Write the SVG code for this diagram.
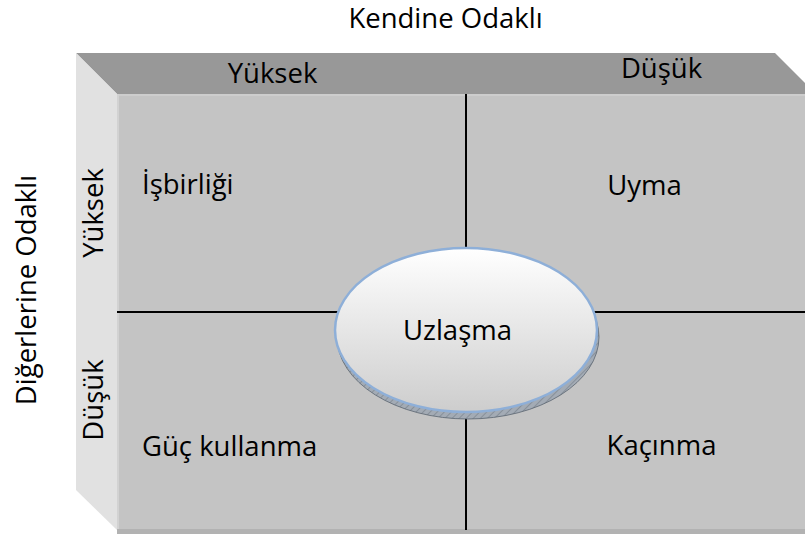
<svg xmlns="http://www.w3.org/2000/svg" width="805" height="534" viewBox="0 0 805 534">
  <style>
    text { font-family: "Open Sans", "Liberation Sans", sans-serif; fill: #000; font-size: 27.5px; }
    .divider { stroke: #000; stroke-width: 2; fill: none; }
  </style>
  <defs>
    <linearGradient id="discFill" x1="0" y1="0" x2="0" y2="1">
      <stop offset="0" stop-color="#ffffff"/>
      <stop offset="1" stop-color="#cdcdcd"/>
    </linearGradient>
    <pattern id="hatch" width="5" height="5" patternUnits="userSpaceOnUse" patternTransform="rotate(45)">
      <rect width="5" height="5" fill="#a3abb5"/>
      <line x1="0" y1="0" x2="0" y2="5" stroke="#6c7580" stroke-width="1"/>
    </pattern>
  </defs>

  <rect width="805" height="534" fill="#ffffff"/>

  <!-- box: top face, side face, front face -->
  <g id="box">
    <polygon points="76,53 775,53 816,94 117,94" fill="#989898"/>
    <polygon points="76,53 117,94 117,530 76,490" fill="#e1e1e1"/>
    <rect x="117" y="94" width="688" height="436" fill="#c4c4c4"/>
    <line x1="117" y1="95" x2="805" y2="95" stroke="#cdcdcd" stroke-width="2"/>
    <line x1="118" y1="94" x2="118" y2="530" stroke="#d2d2d2" stroke-width="2"/>
    <rect x="117" y="529" width="688" height="5" fill="#b2b2b2"/>
  </g>

  <!-- quadrant dividers -->
  <g id="connectors">
    <line class="divider" x1="117" y1="312" x2="340" y2="312"/>
    <line class="divider" x1="592" y1="312" x2="805" y2="312"/>
    <line class="divider" x1="466" y1="94" x2="466" y2="530"/>
  </g>

  <!-- axis titles -->
  <g id="axis-top">
    <text x="445.5" y="28" text-anchor="middle">Kendine Odaklı</text>
    <text x="272.5" y="83" text-anchor="middle">Yüksek</text>
    <text x="661.5" y="78" text-anchor="middle">Düşük</text>
  </g>
  <g id="axis-left">
    <text transform="translate(36,290) rotate(-90)" text-anchor="middle">Diğerlerine Odaklı</text>
    <text transform="translate(103,213) rotate(-90)" text-anchor="middle">Yüksek</text>
    <text transform="translate(103,400) rotate(-90)" text-anchor="middle">Düşük</text>
  </g>

  <!-- quadrants -->
  <g id="isbirligi"><text x="142" y="194">İşbirliği</text></g>
  <g id="uyma"><text x="644.5" y="195" text-anchor="middle">Uyma</text></g>
  <g id="guc-kullanma"><text x="142" y="456">Güç kullanma</text></g>
  <g id="kacinma"><text x="661.5" y="455" text-anchor="middle">Kaçınma</text></g>

  <!-- central disc -->
  <g id="uzlasma">
    <ellipse cx="468" cy="337" rx="131" ry="82" fill="url(#hatch)" stroke="#5a6470" stroke-width="0.8"/>
    <ellipse cx="466" cy="330" rx="131" ry="82" fill="url(#discFill)" stroke="#8eafd8" stroke-width="2.5"/>
    <text x="457.5" y="340" text-anchor="middle">Uzlaşma</text>
  </g>
</svg>
